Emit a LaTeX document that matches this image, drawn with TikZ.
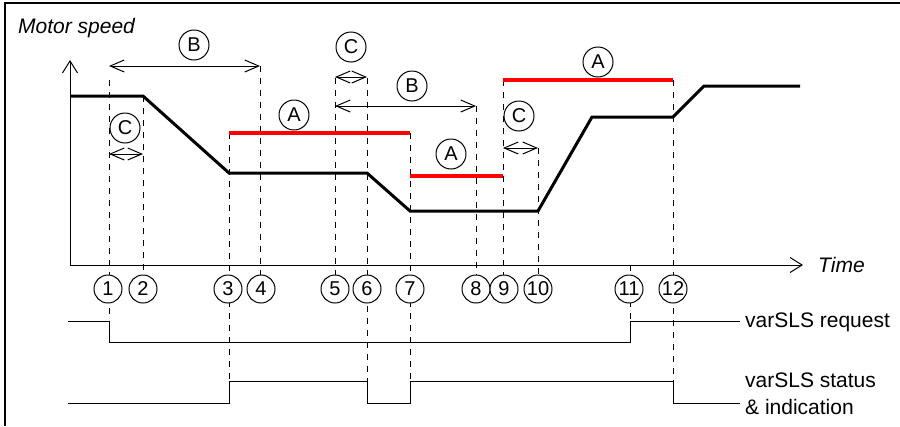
\documentclass[tikz,border=0pt]{standalone}
\usepackage{fontspec}
\setmainfont{Liberation Sans}
\usetikzlibrary{arrows.meta}
\begin{document}
\begin{tikzpicture}[x=1pt,y=-1pt,
  frameline/.style={line width=1.5pt},
  axisline/.style={line width=1pt,-{Straight Barb[length=12pt,width=15pt]}},
  speedline/.style={line width=3pt},
  limitline/.style={red,line width=4pt},
  guide/.style={line width=1pt,dash pattern=on 6pt off 6pt},
  spanline/.style={line width=1pt,{Straight Barb[length=14pt,width=12pt]}-{Straight Barb[length=14pt,width=12pt]}},
  sigline/.style={line width=1pt},
  tag/.style={circle,draw,line width=1pt,fill=white,minimum size=28pt,inner sep=0pt,font=\fontsize{20}{20}\selectfont},
  ltag/.style={tag,minimum size=30pt},
  lbl/.style={font=\fontsize{21}{24}\selectfont,inner sep=0pt}]
\useasboundingbox (0,0) rectangle (900,426);
% frame
\coordinate (fa) at (5,426);
\coordinate (fb) at (5,3);
\coordinate (fc) at (900,3);
\draw[frameline] (fa) -- (fb) -- (fc);
% guide lines
\foreach \n/\x/\ya/\yb in {1/109/80/320, 2/143/96/275, 3/229/133/381, 4/260/66/275,
  5/335/78/275, 6/367/78/381, 7/410/133/381, 8/476/106/275, 9/503/80/275,
  10/538/148/275, 11/630/265/321, 12/673/80/381}{
  \coordinate (t\n) at (\x,\ya);
  \coordinate (b\n) at (\x,\yb);
  \draw[guide] (t\n) -- (b\n);
}
% axes
\coordinate (o) at (70,265);
\coordinate (ytop) at (70,60);
\coordinate (xend) at (803,265);
\draw[axisline] (o) -- (ytop);
\draw[axisline] (o) -- (xend);
\node[lbl,anchor=west,font=\fontsize{21}{24}\selectfont\itshape] (ms) at (18,28) {Motor speed};
\node[lbl,anchor=west,font=\fontsize{21}{24}\selectfont\itshape] (tm) at (818,265) {Time};
% time markers
\foreach \n/\x in {1/108,2/143,3/228,4/261,5/335,6/367,7/410,8/476,9/504,10/538,11/629,12/673}{
  \node[tag] (n\n) at (\x,289) {\n};
}
% speed profile
\coordinate (s0) at (70,96);
\coordinate (s1) at (143,96);
\coordinate (s2) at (229,173);
\coordinate (s3) at (367,173);
\coordinate (s4) at (410,211);
\coordinate (s5) at (538,211);
\coordinate (s6) at (592,117);
\coordinate (s7) at (673,117);
\coordinate (s8) at (704,86);
\coordinate (s9) at (800,86);
\draw[speedline] (s0) -- (s1) -- (s2) -- (s3) -- (s4) -- (s5) -- (s6) -- (s7) -- (s8) -- (s9);
% limits A
\coordinate (a1l) at (229,133); \coordinate (a1r) at (410,133);
\coordinate (a2l) at (410,176); \coordinate (a2r) at (503,176);
\coordinate (a3l) at (503,80);  \coordinate (a3r) at (673,80);
\draw[limitline] (a1l) -- (a1r);
\draw[limitline] (a2l) -- (a2r);
\draw[limitline] (a3l) -- (a3r);
\node[ltag] (la1) at (294,115) {A};
\node[ltag] (la2) at (451,154) {A};
\node[ltag] (la3) at (598,62) {A};
% spans B
\coordinate (b1l) at (109,66); \coordinate (b1r) at (260,66);
\coordinate (b2l) at (335,106); \coordinate (b2r) at (476,106);
\draw[spanline] (b1l) -- (b1r);
\draw[spanline] (b2l) -- (b2r);
\node[ltag] (lb1) at (194,45) {B};
\node[ltag] (lb2) at (412,86) {B};
% spans C
\coordinate (c1l) at (109,154); \coordinate (c1r) at (143,154);
\coordinate (c2l) at (335,77); \coordinate (c2r) at (367,77);
\coordinate (c3l) at (503,148); \coordinate (c3r) at (538,148);
\draw[spanline] (c1l) -- (c1r);
\draw[spanline] (c2l) -- (c2r);
\draw[spanline] (c3l) -- (c3r);
\node[ltag] (lc1) at (125,128) {C};
\node[ltag] (lc2) at (351,47) {C};
\node[ltag] (lc3) at (519,116) {C};
% request signal
\coordinate (r0) at (68,321);
\coordinate (r1) at (109,321);
\coordinate (r2) at (109,342);
\coordinate (r3) at (630,342);
\coordinate (r4) at (630,321);
\coordinate (r5) at (740,321);
\draw[sigline] (r0) -- (r1) -- (r2) -- (r3) -- (r4) -- (r5);
\node[lbl,anchor=west] (rq) at (745,322) {varSLS request};
% status signal
\coordinate (q0) at (68,403);
\coordinate (q1) at (229,403);
\coordinate (q2) at (229,381);
\coordinate (q3) at (367,381);
\coordinate (q4) at (367,403);
\coordinate (q5) at (410,403);
\coordinate (q6) at (410,381);
\coordinate (q7) at (673,381);
\coordinate (q8) at (673,403);
\coordinate (q9) at (740,403);
\draw[sigline] (q0) -- (q1) -- (q2) -- (q3) -- (q4) -- (q5) -- (q6) -- (q7) -- (q8) -- (q9);
\node[lbl,anchor=west] (st1) at (745,380) {varSLS status};
\node[lbl,anchor=west] (st2) at (745,407) {\& indication};
\end{tikzpicture}
\end{document}
